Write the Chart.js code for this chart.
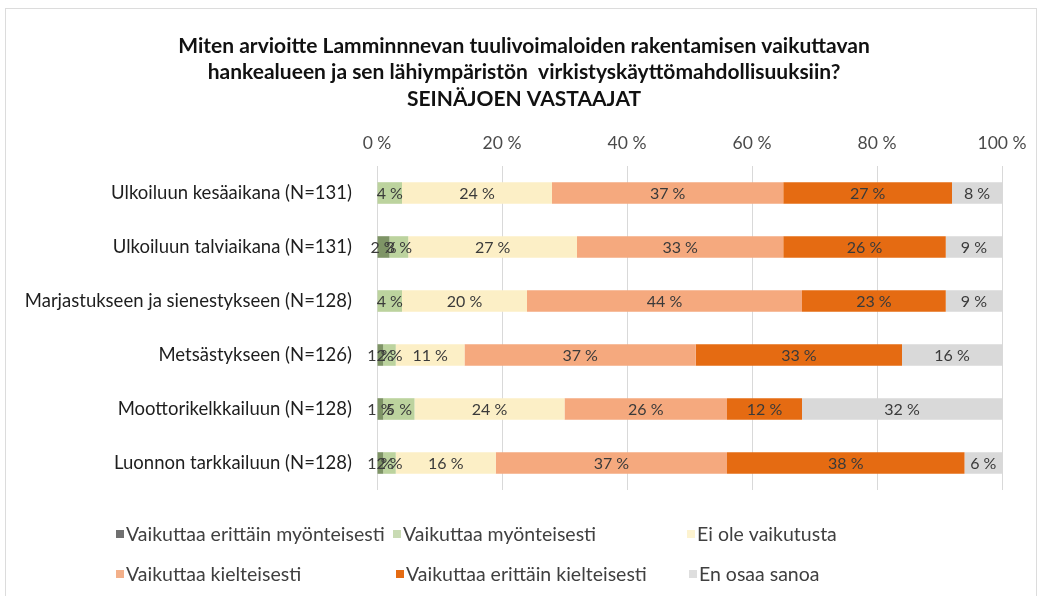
<!DOCTYPE html>
<html>
<head>
<meta charset="utf-8">
<script src="https://cdn.jsdelivr.net/npm/chart.js@4"></script>
<style>
  html, body { margin: 0; padding: 0; background: #fff; }
  #wrap { position: relative; width: 1045px; height: 596px; }
  #frame { position: absolute; left: 5px; top: 8px; width: 1030px; height: 590px; border: 1px solid #dcdcdc; pointer-events: none; }
</style>
</head>
<body>
<div id="wrap">
  <canvas id="chart" width="1045" height="596"></canvas>
  <div id="frame"></div>
</div>
<script>
const titleLines = [
  'Miten arvioitte Lamminnnevan tuulivoimaloiden rakentamisen vaikuttavan',
  'hankealueen ja sen lähiympäristön  virkistyskäyttömahdollisuuksiin?',
  'SEINÄJOEN VASTAAJAT'
];
const categories = [
  'Ulkoiluun kesäaikana (N=131)',
  'Ulkoiluun talviaikana (N=131)',
  'Marjastukseen ja sienestykseen (N=128)',
  'Metsästykseen (N=126)',
  'Moottorikelkkailuun (N=128)',
  'Luonnon tarkkailuun (N=128)'
];
const seriesNames = [
  'Vaikuttaa erittäin myönteisesti',
  'Vaikuttaa myönteisesti',
  'Ei ole vaikutusta',
  'Vaikuttaa kielteisesti',
  'Vaikuttaa erittäin kielteisesti',
  'En osaa sanoa'
];
const veryPositive = [0, 2, 0, 1, 1, 1];
const positive     = [4, 3, 4, 2, 5, 2];
const noEffect     = [24, 27, 20, 11, 24, 16];
const negative     = [37, 33, 44, 37, 26, 37];
const veryNegative = [27, 26, 23, 33, 12, 38];
const dontKnow     = [8, 9, 9, 16, 32, 6];
const xTicks = [0, 20, 40, 60, 80, 100];

const colors = ['#7e9466', '#bcd39e', '#fcefc6', '#f5a97e', '#e56b12', '#d9d9d9'];
const legendColors = ['#707070', '#c9dbb4', '#fdf3d0', '#f3b08a', '#e56b12', '#dedede'];
const FONT = 'Lato, "Open Sans", sans-serif';

const allSeries = [veryPositive, positive, noEffect, negative, veryNegative, dontKnow];

// title drawn by hand so it can sit off-centre like the original
const titleBlock = {
  id: 'titleBlock',
  afterDraw(chart) {
    const ctx = chart.ctx;
    ctx.save();
    ctx.font = 'bold 21px ' + FONT;
    ctx.fillStyle = '#111';
    ctx.textAlign = 'center';
    ctx.textBaseline = 'middle';
    titleLines.forEach((t, i) => ctx.fillText(t, 524, 46 + i * 26.5));
    ctx.restore();
  }
};

const valueLabels = {
  id: 'valueLabels',
  afterDatasetsDraw(chart) {
    const ctx = chart.ctx;
    ctx.save();
    ctx.font = '16px ' + FONT;
    ctx.fillStyle = '#3a3a3a';
    ctx.textAlign = 'center';
    ctx.textBaseline = 'middle';
    chart.data.datasets.forEach((ds, i) => {
      chart.getDatasetMeta(i).data.forEach((el, j) => {
        const v = ds.data[j];
        if (!v) return;
        const p = el.getCenterPoint();
        ctx.fillText(v + ' %', p.x, p.y + 1);
      });
    });
    ctx.restore();
  }
};

// legend in two rows, markers at fixed spots like the original
const gridLegend = {
  id: 'gridLegend',
  afterDraw(chart) {
    const ctx = chart.ctx;
    const spots = [[116, 534], [393, 534], [687, 534], [116, 574], [396, 574], [689, 574]];
    ctx.save();
    ctx.font = '19.5px ' + FONT;
    ctx.textBaseline = 'middle';
    chart.data.datasets.forEach((ds, i) => {
      const [x, y] = spots[i];
      ctx.fillStyle = legendColors[i];
      ctx.fillRect(x, y - 4, 8, 8);
      ctx.fillStyle = '#404040';
      ctx.fillText(ds.label, x + 10, y + 1);
    });
    ctx.restore();
  }
};

new Chart(document.getElementById('chart'), {
  type: 'bar',
  data: {
    labels: categories,
    datasets: allSeries.map((d, i) => ({
      label: seriesNames[i],
      data: d,
      backgroundColor: colors[i],
      borderWidth: 0,
      barPercentage: 0.4,
      categoryPercentage: 1
    }))
  },
  options: {
    indexAxis: 'y',
    responsive: false,
    animation: false,
    layout: { padding: { left: 0, right: 43, top: 112, bottom: 106 } },
    plugins: {
      legend: { display: false },
      tooltip: { enabled: false },
      title: { display: false }
    },
    scales: {
      x: {
        position: 'top',
        stacked: true,
        min: 0,
        max: 100,
        afterBuildTicks(s) { s.ticks = xTicks.map(v => ({ value: v })); },
        afterFit(s) { s.height = 54; },
        border: { display: false },
        grid: { color: '#d9d9d9', drawTicks: false },
        ticks: {
          padding: 12,
          color: '#4a4a4a',
          font: { family: FONT, size: 17.5 },
          callback: v => v + ' %'
        }
      },
      y: {
        stacked: true,
        afterFit(s) { s.width = 377; },
        border: { display: false },
        grid: { display: false },
        ticks: {
          padding: 17,
          color: '#1e1e1e',
          font: { family: FONT, size: 18.5 }
        }
      }
    }
  },
  plugins: [titleBlock, valueLabels, gridLegend]
});
</script>
</body>
</html>
